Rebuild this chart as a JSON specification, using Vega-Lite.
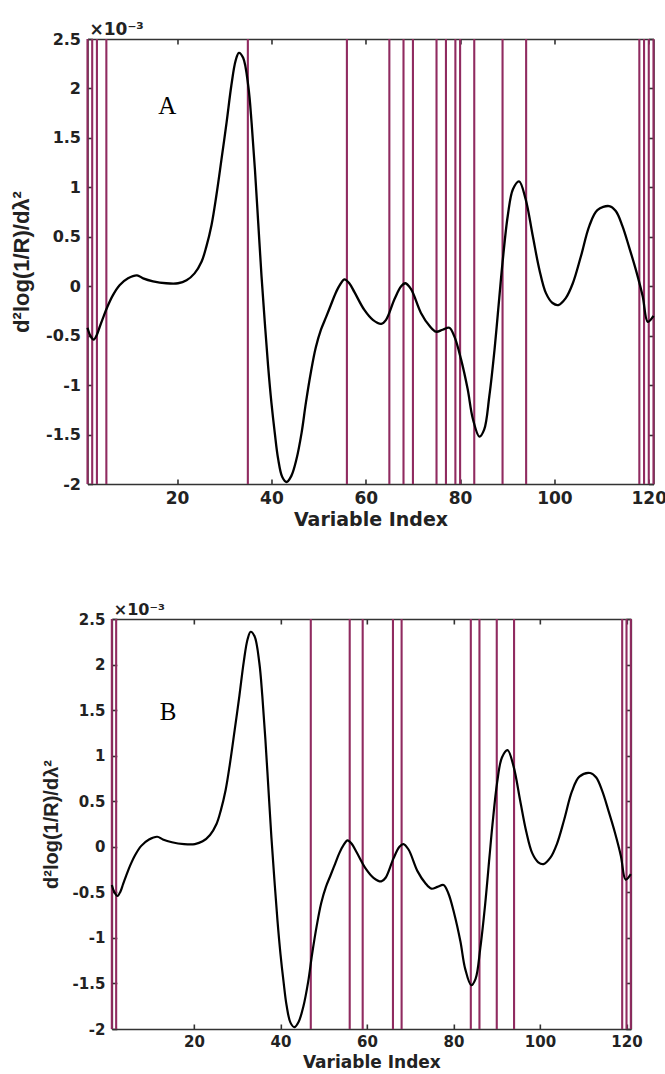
{
  "$schema": "https://vega.github.io/schema/vega-lite/v6.json",
  "padding": {"left": 10, "top": 21, "right": 5, "bottom": 0},
  "background": "white",
  "config": {
    "view": {"stroke": null},
    "axis": {
      "grid": false,
      "domainColor": "#333333",
      "domainWidth": 1.6,
      "tickColor": "#333333",
      "tickWidth": 1.6,
      "tickSize": -5,
      "labelFont": "DejaVu Sans",
      "labelFontWeight": "bold",
      "labelColor": "#222222",
      "titleFont": "DejaVu Sans",
      "titleFontWeight": "bold",
      "titleColor": "#222222"
    },
    "title": {"font": "DejaVu Sans", "fontWeight": "bold", "color": "#222222", "anchor": "start", "frame": "group"}
  },
  "datasets": {
    "curve": [
      {"x": 1, "y": -0.42}, {"x": 1.6, "y": -0.5}, {"x": 2.3, "y": -0.54}, {"x": 3.0, "y": -0.49},
      {"x": 3.6, "y": -0.41}, {"x": 4.3, "y": -0.32}, {"x": 5.2, "y": -0.21}, {"x": 6.4, "y": -0.09},
      {"x": 7.8, "y": 0.01}, {"x": 9.6, "y": 0.08}, {"x": 11.5, "y": 0.11}, {"x": 12.8, "y": 0.08},
      {"x": 14.9, "y": 0.05}, {"x": 17.7, "y": 0.03}, {"x": 20.2, "y": 0.03}, {"x": 22.0, "y": 0.06},
      {"x": 23.7, "y": 0.13}, {"x": 25.2, "y": 0.25}, {"x": 26.2, "y": 0.4}, {"x": 27.3, "y": 0.62},
      {"x": 28.3, "y": 0.91}, {"x": 29.4, "y": 1.28}, {"x": 30.5, "y": 1.66}, {"x": 31.5, "y": 2.03},
      {"x": 32.4, "y": 2.28}, {"x": 33.1, "y": 2.36}, {"x": 34.0, "y": 2.31}, {"x": 35.1, "y": 2.02},
      {"x": 35.8, "y": 1.65}, {"x": 36.5, "y": 1.18}, {"x": 37.2, "y": 0.64}, {"x": 37.9, "y": 0.1},
      {"x": 38.6, "y": -0.37}, {"x": 39.3, "y": -0.81}, {"x": 40.0, "y": -1.18}, {"x": 40.7, "y": -1.48},
      {"x": 41.4, "y": -1.74}, {"x": 42.3, "y": -1.93}, {"x": 43.2, "y": -1.98}, {"x": 44.2, "y": -1.92},
      {"x": 45.3, "y": -1.75}, {"x": 46.4, "y": -1.48}, {"x": 47.3, "y": -1.18}, {"x": 48.4, "y": -0.86},
      {"x": 49.4, "y": -0.62}, {"x": 50.5, "y": -0.44}, {"x": 51.6, "y": -0.31}, {"x": 52.6, "y": -0.19},
      {"x": 53.6, "y": -0.07}, {"x": 54.6, "y": 0.02}, {"x": 55.5, "y": 0.07}, {"x": 56.5, "y": 0.03},
      {"x": 57.6, "y": -0.06}, {"x": 59.7, "y": -0.24}, {"x": 61.5, "y": -0.34}, {"x": 63.3, "y": -0.38},
      {"x": 64.3, "y": -0.34}, {"x": 66.1, "y": -0.13}, {"x": 67.5, "y": 0.0}, {"x": 68.4, "y": 0.03},
      {"x": 69.6, "y": -0.03}, {"x": 71.7, "y": -0.27}, {"x": 73.5, "y": -0.4}, {"x": 74.9, "y": -0.46},
      {"x": 76.3, "y": -0.44}, {"x": 77.7, "y": -0.42}, {"x": 78.8, "y": -0.51}, {"x": 80.2, "y": -0.74},
      {"x": 81.6, "y": -1.04}, {"x": 82.7, "y": -1.34}, {"x": 84.1, "y": -1.52}, {"x": 85.1, "y": -1.45},
      {"x": 86.2, "y": -1.11}, {"x": 87.3, "y": -0.64}, {"x": 88.3, "y": -0.12}, {"x": 89.0, "y": 0.24},
      {"x": 90.1, "y": 0.71}, {"x": 91.2, "y": 0.98}, {"x": 92.5, "y": 1.06}, {"x": 93.9, "y": 0.88},
      {"x": 95.4, "y": 0.51}, {"x": 96.8, "y": 0.17}, {"x": 98.2, "y": -0.07}, {"x": 99.6, "y": -0.17},
      {"x": 100.8, "y": -0.19}, {"x": 102.4, "y": -0.12}, {"x": 103.9, "y": 0.03}, {"x": 105.6, "y": 0.3},
      {"x": 107.4, "y": 0.61}, {"x": 109.1, "y": 0.77}, {"x": 111.6, "y": 0.81}, {"x": 113.0, "y": 0.76},
      {"x": 114.4, "y": 0.61}, {"x": 115.8, "y": 0.4}, {"x": 117.3, "y": 0.16}, {"x": 118.7, "y": -0.1},
      {"x": 119.8, "y": -0.36}, {"x": 121, "y": -0.3}
    ],
    "selA": [
      {"x": 1}, {"x": 2}, {"x": 3}, {"x": 5}, {"x": 35}, {"x": 56}, {"x": 65}, {"x": 68}, {"x": 70},
      {"x": 75}, {"x": 77}, {"x": 79}, {"x": 80}, {"x": 83}, {"x": 89}, {"x": 94}, {"x": 118}, {"x": 119},
      {"x": 120}, {"x": 121}
    ],
    "selB": [
      {"x": 1}, {"x": 2}, {"x": 47}, {"x": 56}, {"x": 59}, {"x": 66}, {"x": 68}, {"x": 84}, {"x": 86},
      {"x": 90}, {"x": 94}, {"x": 119}, {"x": 120}, {"x": 121}
    ]
  },
  "spacing": 73,
  "center": true,
  "vconcat": [
    {
      "width": 566,
      "height": 445,
      "title": {"text": "×10⁻³", "fontSize": 17, "offset": -8, "dx": 2},
      "layer": [
        {
          "data": {"name": "selA"},
          "mark": {"type": "rule", "color": "#902b60", "strokeWidth": 2.1},
          "encoding": {
            "x": {"field": "x", "type": "quantitative",
              "scale": {"domain": [1, 121], "nice": false, "zero": false},
              "axis": {"orient": "top", "values": [20, 40, 60, 80, 100, 120], "labels": false, "title": null}}
          }
        },
        {
          "data": {"name": "curve"},
          "mark": {"type": "line", "color": "#000000", "strokeWidth": 2.3, "interpolate": "catmull-rom"},
          "encoding": {
            "x": {"field": "x", "type": "quantitative",
              "scale": {"domain": [1, 121], "nice": false, "zero": false},
              "axis": {"orient": "bottom", "values": [20, 40, 60, 80, 100, 120], "labelFontSize": 17,
                "labelPadding": 11, "title": "Variable Index", "titleFontSize": 19, "titlePadding": 4}},
            "y": {"field": "y", "type": "quantitative",
              "scale": {"domain": [-2, 2.5], "nice": false, "zero": false},
              "axis": {"orient": "left", "values": [-2, -1.5, -1, -0.5, 0, 0.5, 1, 1.5, 2, 2.5],
                "labelExpr": "'' + datum.value", "labelFontSize": 16, "labelPadding": 12,
                "title": "d²log(1/R)/dλ²", "titleFont": "Liberation Sans", "titleFontSize": 22, "titlePadding": 12}}
          }
        },
        {
          "data": {"values": [{"x": 17.9, "y": 1.82, "t": "A"}]},
          "mark": {"type": "text", "font": "Liberation Serif", "fontSize": 25, "color": "#000000", "align": "center", "baseline": "middle"},
          "encoding": {
            "x": {"field": "x", "type": "quantitative", "scale": {"domain": [1, 121], "nice": false, "zero": false}, "axis": null},
            "y": {"field": "y", "type": "quantitative",
              "scale": {"domain": [-2, 2.5], "nice": false, "zero": false},
              "axis": {"orient": "right", "values": [-2, -1.5, -1, -0.5, 0, 0.5, 1, 1.5, 2, 2.5], "labels": false, "title": null}},
            "text": {"field": "t"}
          }
        }
      ],
      "resolve": {"axis": {"x": "independent", "y": "independent"}}
    },
    {
      "width": 519,
      "height": 410,
      "title": {"text": "×10⁻³", "fontSize": 16, "offset": -6, "dx": 2},
      "layer": [
        {
          "data": {"name": "selB"},
          "mark": {"type": "rule", "color": "#902b60", "strokeWidth": 2.1},
          "encoding": {
            "x": {"field": "x", "type": "quantitative",
              "scale": {"domain": [1, 121], "nice": false, "zero": false},
              "axis": {"orient": "top", "values": [20, 40, 60, 80, 100, 120], "labels": false, "title": null}}
          }
        },
        {
          "data": {"name": "curve"},
          "mark": {"type": "line", "color": "#000000", "strokeWidth": 2.2, "interpolate": "catmull-rom"},
          "encoding": {
            "x": {"field": "x", "type": "quantitative",
              "scale": {"domain": [1, 121], "nice": false, "zero": false},
              "axis": {"orient": "bottom", "values": [20, 40, 60, 80, 100, 120], "labelFontSize": 15,
                "labelPadding": 10, "title": "Variable Index", "titleFontSize": 17, "titlePadding": 5}},
            "y": {"field": "y", "type": "quantitative",
              "scale": {"domain": [-2, 2.5], "nice": false, "zero": false},
              "axis": {"orient": "left", "values": [-2, -1.5, -1, -0.5, 0, 0.5, 1, 1.5, 2, 2.5],
                "labelExpr": "'' + datum.value", "labelFontSize": 15, "labelPadding": 12,
                "title": "d²log(1/R)/dλ²", "titleFont": "Liberation Sans", "titleFontSize": 20, "titlePadding": 11}}
          }
        },
        {
          "data": {"values": [{"x": 14.0, "y": 1.48, "t": "B"}]},
          "mark": {"type": "text", "font": "Liberation Serif", "fontSize": 25, "color": "#000000", "align": "center", "baseline": "middle"},
          "encoding": {
            "x": {"field": "x", "type": "quantitative", "scale": {"domain": [1, 121], "nice": false, "zero": false}, "axis": null},
            "y": {"field": "y", "type": "quantitative",
              "scale": {"domain": [-2, 2.5], "nice": false, "zero": false},
              "axis": {"orient": "right", "values": [-2, -1.5, -1, -0.5, 0, 0.5, 1, 1.5, 2, 2.5], "labels": false, "title": null}},
            "text": {"field": "t"}
          }
        }
      ],
      "resolve": {"axis": {"x": "independent", "y": "independent"}}
    }
  ]
}
